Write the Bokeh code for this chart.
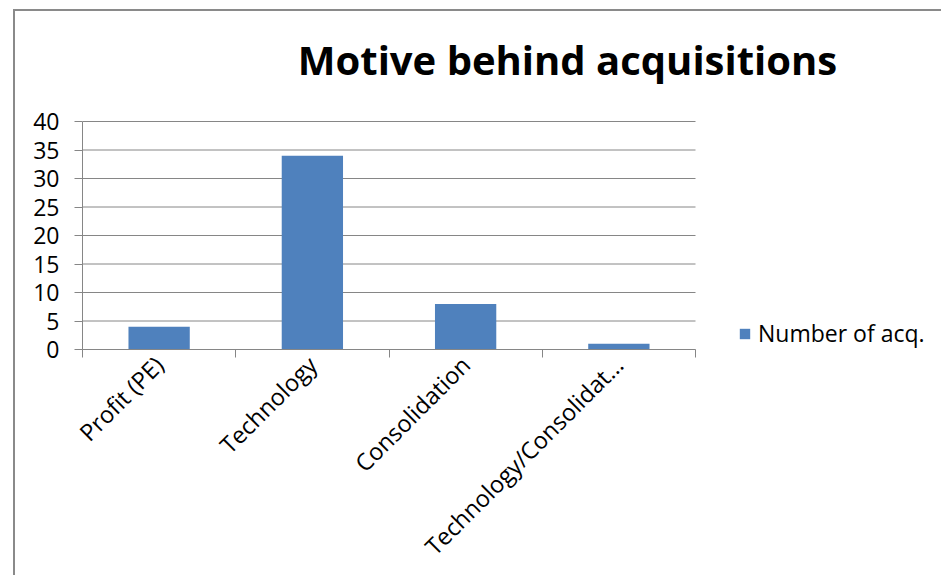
import math
from bokeh.plotting import figure
from bokeh.models import (ColumnDataSource, FixedTicker, Range1d, Legend,
                          LegendItem, Label)
from bokeh.embed import file_html
from bokeh.resources import INLINE

# Motives and the number of acquisitions for each
categories = ["Profit (PE)", "Technology", "Consolidation", "Technology/Consolidat..."]
counts = [4, 34, 8, 1]
y_ticks = [0, 5, 10, 15, 20, 25, 30, 35, 40]
series_name = "Number of acq."
chart_title = "Motive behind acquisitions"

FONT = "Open Sans"
GRID = "#868686"
BAR = "#4F81BD"

# canvas geometry (pixels)
W, H = 928, 566
LEFT, BOTTOM = 67, 228          # room for the value and category labels
PLOT_W, PLOT_H = 613, 228       # drawn extent of the bar area
frame_w, frame_h = W - LEFT, H - BOTTOM

n = len(categories)
y_max = y_ticks[-1]
# the frame reaches the canvas edges so the title and legend can sit in it;
# axes and grid lines are bounded to the bar area
x_end = n * frame_w / PLOT_W
y_end = y_max * frame_h / PLOT_H
px_x = PLOT_W / n
px_y = PLOT_H / y_max

centers = [i + 0.5 for i in range(n)]
source = ColumnDataSource(dict(x=centers, top=counts, name=categories))

p = figure(width=W, height=H, output_backend="svg", toolbar_location=None,
           x_range=Range1d(0, x_end), y_range=Range1d(0, y_end),
           min_border_left=LEFT, min_border_right=0,
           min_border_top=0, min_border_bottom=BOTTOM)
p.margin = (9, 0, 0, 13)
p.styles = {"border-left": "2px solid #8a8a8a", "border-top": "2px solid #8a8a8a"}
p.outline_line_color = None
p.background_fill_color = "white"
p.border_fill_color = "white"
p.xgrid.visible = False
p.ygrid.visible = False

# horizontal grid lines across the bar area
p.segment(x0=[0] * len(y_ticks), x1=[n] * len(y_ticks), y0=y_ticks, y1=y_ticks,
          line_color=GRID, line_width=1)

bars = p.vbar(x="x", top="top", bottom=0, width=0.4, source=source,
              fill_color=BAR, line_color=None)

# category axis: tick marks between categories, labels under each bar
xa = p.xaxis[0]
xa.bounds = (0, n)
xa.ticker = FixedTicker(ticks=centers, minor_ticks=list(range(n + 1)))
xa.major_label_overrides = {c: lab for c, lab in zip(centers, categories)}
xa.major_tick_out = 0
xa.major_tick_in = 0
xa.minor_tick_out = 8
xa.minor_tick_in = 0
xa.minor_tick_line_color = GRID
xa.axis_line_color = GRID
xa.major_label_orientation = math.pi / 4
xa.major_label_text_font = FONT
xa.major_label_text_font_size = "23.5px"
xa.major_label_text_color = "black"
xa.major_label_standoff = 3

ya = p.yaxis[0]
ya.bounds = (0, y_max)
ya.ticker = FixedTicker(ticks=y_ticks, minor_ticks=[])
ya.major_tick_out = 8
ya.major_tick_in = 0
ya.major_tick_line_color = GRID
ya.axis_line_color = GRID
ya.major_label_text_font = FONT
ya.major_label_text_font_size = "23px"
ya.major_label_text_color = "black"
ya.major_label_standoff = 15

p.title = None
title = Label(x=485 / px_x, y=290 / px_y, text=chart_title,
              text_align="center", text_baseline="alphabetic",
              text_font=FONT, text_font_size="40px", text_font_style="bold",
              text_color="black")
p.add_layout(title)

legend = Legend(items=[LegendItem(label=series_name, renderers=[bars])],
                location=(656, 0), border_line_color=None,
                background_fill_alpha=0, padding=0, margin=0,
                glyph_width=13, glyph_height=13, label_standoff=7,
                label_text_font=FONT, label_text_font_size="23px",
                label_text_color="black")
p.add_layout(legend, "center")

open("out.html", "w").write(file_html(p, INLINE))
